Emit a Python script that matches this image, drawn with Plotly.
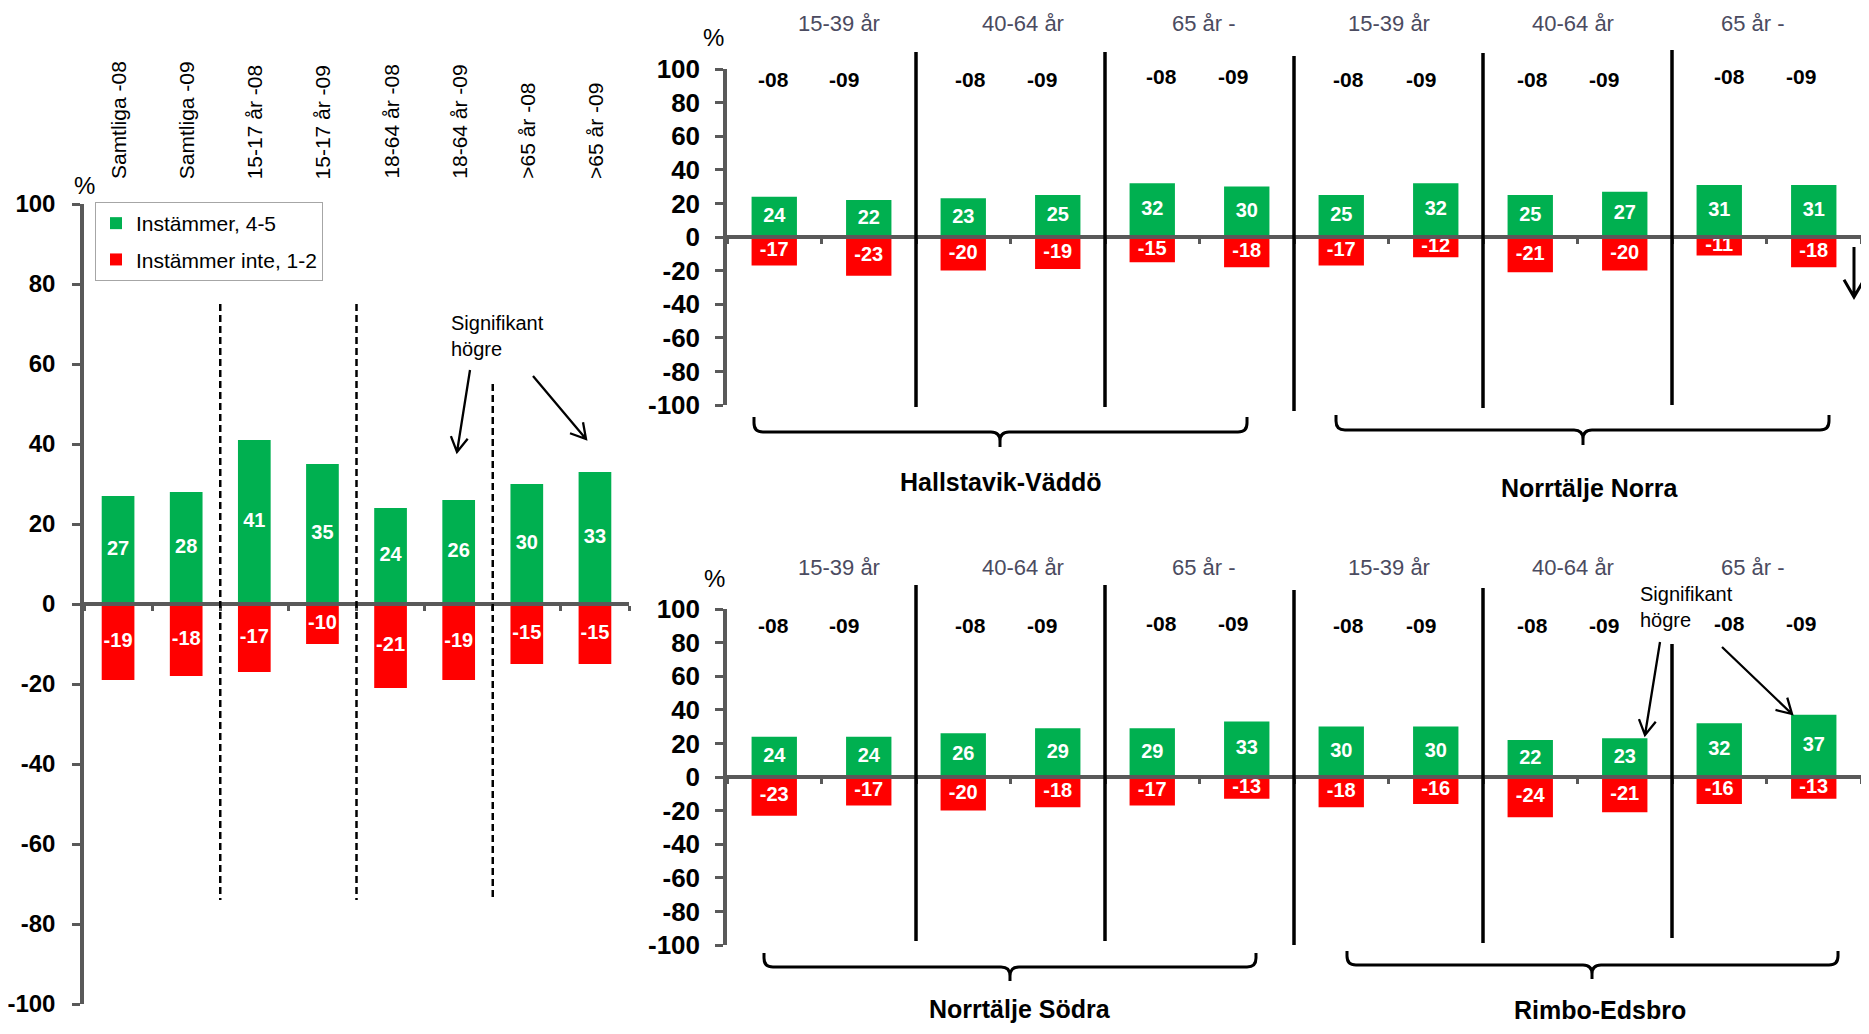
import math
import plotly.graph_objects as go

# page is drawn with an 8px body margin, so the figure is sized to fit inside the window
OFF = 8
W, H = 1869 - 2 * OFF, 1034 - 2 * OFF
FONT = "Arial, 'Liberation Sans', sans-serif"
GREEN, RED = "#00B050", "#FF0000"
AXIS = "#595959"
HEADER = "#4b4b60"

# ---------------- data ----------------
left_categories = ["Samtliga -08", "Samtliga -09", "15-17 år -08", "15-17 år -09",
                   "18-64 år -08", "18-64 år -09", ">65 år -08", ">65 år -09"]
left_agree = [27, 28, 41, 35, 24, 26, 30, 33]
left_disagree = [-19, -18, -17, -10, -21, -19, -15, -15]

age_groups = ["15-39 år", "40-64 år", "65 år -"]
years = ["-08", "-09"]

top_regions = ["Hallstavik-Väddö", "Norrtälje Norra"]
top_agree = [24, 22, 23, 25, 32, 30, 25, 32, 25, 27, 31, 31]
top_disagree = [-17, -23, -20, -19, -15, -18, -17, -12, -21, -20, -11, -18]

bottom_regions = ["Norrtälje Södra", "Rimbo-Edsbro"]
bottom_agree = [24, 24, 26, 29, 29, 33, 30, 30, 22, 23, 32, 37]
bottom_disagree = [-23, -17, -20, -18, -17, -13, -18, -16, -24, -21, -16, -13]

series_names = ["Instämmer, 4-5", "Instämmer inte, 1-2"]
y_ticks = [100, 80, 60, 40, 20, 0, -20, -40, -60, -80, -100]
note_text = "Signifikant<br>högre"


def make_cats(regions):
    return [f"{r} {a} {y}" for r in regions for a in age_groups for y in years]


top_categories = make_cats(top_regions)
bottom_categories = make_cats(bottom_regions)


# ---------------- helpers (screen pixels -> paper) ----------------
def PX(x):
    return (x - OFF) / W


def PY(y):
    return 1 - (y - OFF) / H


def P(x, y):
    return f"{PX(x):.5f},{PY(y):.5f}"


# panel geometry (screen pixels): x from-to, y top(100)-bottom(-100)
L_X, L_Y = (84, 629), (204, 1004)
T_X, T_Y = (727, 1868), (69, 405)
B_X, B_Y = (727, 1868), (609, 945)

fig = go.Figure()


def add_panel(cats, agree, disagree, xa, ya, legend):
    for vals, color, name, grp in ((agree, GREEN, series_names[0], "agree"),
                                   (disagree, RED, series_names[1], "disagree")):
        fig.add_trace(go.Bar(x=cats, y=vals, name=name, width=0.48,
                             marker=dict(color=color, line=dict(width=0)),
                             xaxis=xa, yaxis=ya, showlegend=legend, legendgroup=grp))
    for vals in (agree, disagree):
        fig.add_trace(go.Scatter(x=cats, y=[v / 2 for v in vals], text=[str(v) for v in vals],
                                 mode="text", textposition="middle center",
                                 textfont=dict(color="white", size=20, family=FONT, weight="bold"),
                                 xaxis=xa, yaxis=ya, showlegend=False, hoverinfo="skip",
                                 cliponaxis=False))


add_panel(left_categories, left_agree, left_disagree, "x", "y", True)
add_panel(top_categories, top_agree, top_disagree, "x2", "y2", False)
add_panel(bottom_categories, bottom_agree, bottom_disagree, "x3", "y3", False)


def xaxis(dom, ypx, n):
    return dict(domain=[max(0, PX(dom[0])), min(1, PX(dom[1]))], range=[-0.5, n - 0.5],
                type="category", anchor="free", position=PY((ypx[0] + ypx[1]) / 2),
                showline=True, linecolor=AXIS, linewidth=4,
                ticks="outside", tickson="boundaries", ticklen=5, tickwidth=2.5, tickcolor=AXIS,
                showticklabels=False, showgrid=False, zeroline=False, fixedrange=True,
                automargin=False)


def yaxis(dom, xa, fs, standoff):
    return dict(domain=[PY(dom[1]), PY(dom[0])], range=[-100, 100], anchor=xa,
                showline=True, linecolor=AXIS, linewidth=3.5,
                ticks="outside", ticklen=8, tickwidth=3, tickcolor=AXIS,
                tickvals=y_ticks, ticktext=[str(t) for t in y_ticks],
                tickfont=dict(size=fs, family=FONT, color="black", weight="bold"),
                ticklabelstandoff=standoff, ticklabeloverflow="allow",
                showgrid=False, zeroline=False, fixedrange=True, automargin=False)


shapes = []
annotations = []

# ---- left panel decorations ----
for b, ytop in zip([1.5, 3.5, 5.5], [75, 75, 55]):
    shapes.append(dict(type="line", xref="x", yref="y", x0=b, x1=b, y0=ytop, y1=-74,
                       line=dict(color="black", width=2.5, dash="7px,4px")))

for i, c in enumerate(left_categories):
    annotations.append(dict(xref="x", yref="paper", x=i, y=PY(181), text=c, textangle=-90,
                            xanchor="center", yanchor="bottom", showarrow=False,
                            font=dict(size=21, color="black")))

for (x, y) in [(84, 185), (713, 38), (714, 578)]:
    annotations.append(dict(xref="paper", yref="paper", x=PX(x), y=PY(y), text="%",
                            showarrow=False, xanchor="center", yanchor="middle",
                            font=dict(size=24, color="black")))

annotations.append(dict(xref="paper", yref="paper", x=PX(449), y=PY(336), text=note_text,
                        align="left", xanchor="left", yanchor="middle", showarrow=False,
                        font=dict(size=20, color="black")))
annotations.append(dict(xref="paper", yref="paper", x=PX(1638), y=PY(607), text=note_text,
                        align="left", xanchor="left", yanchor="middle", showarrow=False,
                        font=dict(size=20, color="black")))

# ---- right panels decorations ----
header_offsets = [0.19, 0.13, 0.05, 0.0, -0.05, -0.14]
year_offsets = [-0.01, -0.26, 0.08, -0.17, 0.10, -0.15, 0.08, -0.16, 0.02, -0.22, 0.11, -0.13]
sep_pos = [1.5, 3.5, 5.5, 7.5, 9.5]
sep_top = [(52, 407), (52, 407), (56, 411), (53, 408), (50, 405)]
sep_bottom = [(585, 941), (585, 941), (590, 945), (588, 943), (644, 938)]

for xa, head_y, year_y, seps, regions, region_pos in (
        ("x2", 23, (79, 79, 77), sep_top, top_regions, [(1000, 482), (1590, 488)]),
        ("x3", 567, (625, 625, 623), sep_bottom, bottom_regions, [(1020, 1009), (1600, 1010)])):
    for k in range(6):
        annotations.append(dict(xref=xa, yref="paper", x=2 * k + 0.5 + header_offsets[k],
                                y=PY(head_y), text=age_groups[k % 3], showarrow=False,
                                xanchor="center", yanchor="middle",
                                font=dict(size=22, color=HEADER)))
    for j in range(12):
        annotations.append(dict(xref=xa, yref="paper", x=j + year_offsets[j],
                                y=PY(year_y[(j // 2) % 3]), text=years[j % 2], showarrow=False,
                                xanchor="center", yanchor="middle",
                                font=dict(size=21, color="black", weight="bold")))
    for b, (y0, y1) in zip(sep_pos, seps):
        shapes.append(dict(type="line", xref=xa, yref="paper", x0=b, x1=b,
                           y0=PY(y0), y1=PY(y1), line=dict(color="black", width=3.5)))
    for name, (x, y) in zip(regions, region_pos):
        annotations.append(dict(xref="paper", yref="paper", x=PX(x), y=PY(y), text=name,
                                showarrow=False, xanchor="center", yanchor="middle",
                                font=dict(size=25, color="black", weight="bold")))


def brace(x0, x1, xc, yend, yline, ytip, r=9):
    return ("M " + P(x0, yend) + " L " + P(x0, yline - r) + " Q " + P(x0, yline) + " " + P(x0 + r, yline)
            + " L " + P(xc - r, yline) + " Q " + P(xc, yline) + " " + P(xc, yline + r)
            + " L " + P(xc, ytip)
            + " M " + P(xc, yline + r) + " Q " + P(xc, yline) + " " + P(xc + r, yline)
            + " L " + P(x1 - r, yline) + " Q " + P(x1, yline) + " " + P(x1, yline - r)
            + " L " + P(x1, yend))


for args in [(754, 1247, 1000, 417, 432, 447), (1336, 1829, 1583, 415, 430, 445),
             (764, 1256, 1010, 953, 967, 981), (1347, 1838, 1592, 951, 965, 979)]:
    shapes.append(dict(type="path", xref="paper", yref="paper", path=brace(*args),
                       line=dict(color="black", width=3)))


def arrow(x0, y0, x1, y1, L=17, ang=30):
    dx, dy = x1 - x0, y1 - y0
    n = math.hypot(dx, dy)
    ux, uy = dx / n, dy / n
    a = math.radians(ang)
    pts = []
    for s in (1, -1):
        rx = ux * math.cos(s * a) - uy * math.sin(s * a)
        ry = ux * math.sin(s * a) + uy * math.cos(s * a)
        pts.append((x1 - L * rx, y1 - L * ry))
    return ("M " + P(x0, y0) + " L " + P(x1, y1) + " M " + P(*pts[0]) + " L " + P(x1, y1)
            + " L " + P(*pts[1]))


for (x0, y0, x1, y1, w, L) in [(470, 370, 457, 452, 2.3, 17), (533, 376, 586, 439, 2.3, 17),
                               (1854, 247, 1854, 297, 3, 20),
                               (1660, 642, 1645, 735, 2.3, 17), (1722, 647, 1792, 714, 2.3, 17)]:
    shapes.append(dict(type="path", xref="paper", yref="paper", path=arrow(x0, y0, x1, y1, L=L),
                       line=dict(color="black", width=w)))

fig.update_layout(
    width=W, height=H, margin=dict(l=0, r=0, t=0, b=0, pad=0, autoexpand=False),
    paper_bgcolor="white", plot_bgcolor="white",
    barmode="relative",
    font=dict(family=FONT, color="black", size=20),
    xaxis=xaxis(L_X, L_Y, len(left_categories)),
    yaxis=yaxis(L_Y, "x", 24, 12),
    xaxis2=xaxis(T_X, T_Y, len(top_categories)),
    yaxis2=yaxis(T_Y, "x2", 26, 10),
    xaxis3=xaxis(B_X, B_Y, len(bottom_categories)),
    yaxis3=yaxis(B_Y, "x3", 26, 10),
    legend=dict(x=PX(95), y=PY(202), xanchor="left", yanchor="top",
                bordercolor="#a6a6a6", borderwidth=1, bgcolor="white",
                font=dict(size=21, color="black"), traceorder="grouped",
                tracegroupgap=6, itemwidth=30),
    shapes=shapes, annotations=annotations,
)

fig.write_html("out.html")
